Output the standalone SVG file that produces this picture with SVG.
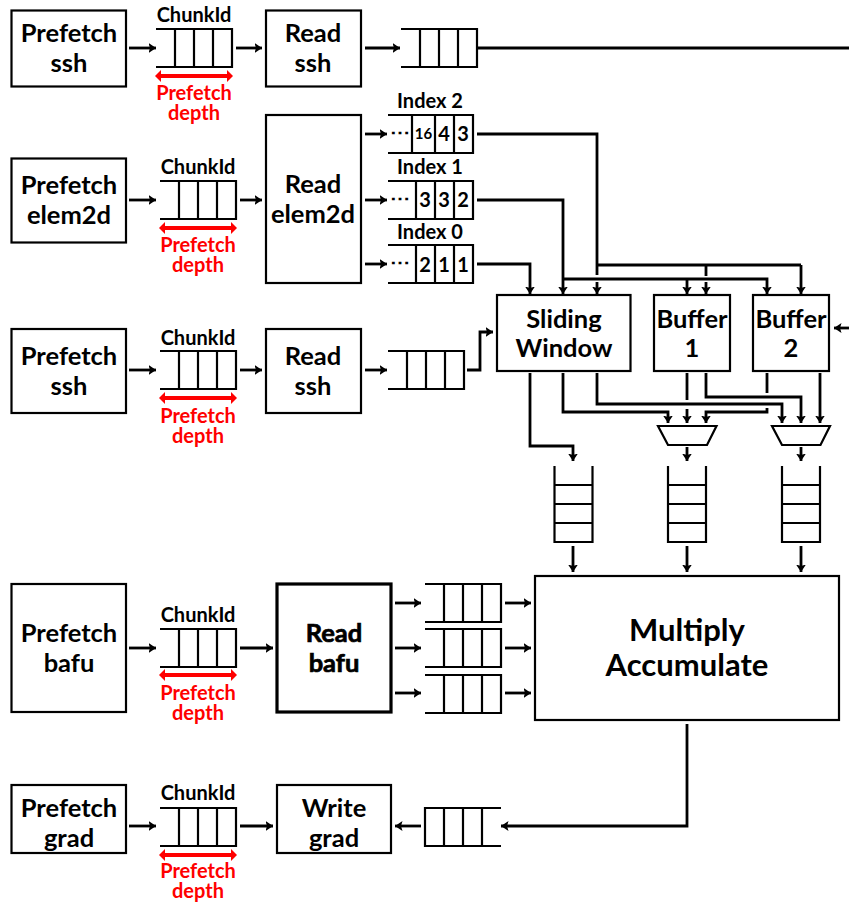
<svg xmlns="http://www.w3.org/2000/svg" xmlns:xlink="http://www.w3.org/1999/xlink" width="849" height="902" viewBox="0 0 849 902">
<style>
text{font-family:"Lato","Open Sans","Liberation Sans",sans-serif;font-weight:700;text-anchor:middle;fill:#000}
.b{fill:#fff;stroke:#000;stroke-width:2.2}
.t{font-size:25.500px}
.s{font-size:20px}
.r{font-size:20px;fill:#f00}
.n{font-size:20px}
.q{fill:none;stroke:#000;stroke-width:2.2}
.c{fill:none;stroke:#000;stroke-width:2.8;marker-end:url(#a)}
.l{fill:none;stroke:#000;stroke-width:2.8}
.d{stroke:#f00;stroke-width:4;fill:none;marker-start:url(#rs);marker-end:url(#re)}
.x{stroke:#000;stroke-width:.7}
</style>
<defs>
<marker id="a" markerUnits="userSpaceOnUse" markerWidth="10" markerHeight="12" refX="7.500" refY="6" orient="auto"><path d="M0 1 L7.500 6 L0 11 L1.500 6Z" fill="#000"/></marker>
<marker id="re" markerUnits="userSpaceOnUse" markerWidth="10" markerHeight="14" refX="4" refY="7" orient="auto"><path d="M0 1 L6 7 L0 13Z" fill="#f00"/></marker>
<marker id="rs" markerUnits="userSpaceOnUse" markerWidth="10" markerHeight="14" refX="2" refY="7" orient="auto"><path d="M6 1 L0 7 L6 13Z" fill="#f00"/></marker>
<path id="qh" class="q" d="M0 0H76V38H0M19 0V38M38 0V38M57 0V38"/>
<path id="qv" class="q" d="M0 0V76H38V0M0 19H38M0 38H38M0 57H38"/>
</defs>

<g id="connectors">
<path class="c" d="M129 48H156"/><path class="c" d="M236 48H262"/><path class="c" d="M365 48H400"/><path class="l" d="M477 48H849"/>
<path class="c" d="M129 200H156"/><path class="c" d="M240 200H262"/>
<path class="c" d="M365 134H387"/><path class="c" d="M365 200H387"/><path class="c" d="M365 264H387"/>
<path class="c" d="M129 370H156"/><path class="c" d="M240 370H262"/><path class="c" d="M365 370H387"/>
<path class="c" d="M467 370H480V332H493"/>
<path class="l" d="M477 134H597V275"/>
<path class="c" d="M597 282V294"/>
<path class="c" d="M477 200H563V294"/>
<path class="c" d="M477 264H530V294"/>
<path class="c" d="M563 279H767V294"/>
<path class="c" d="M687 279V294"/>
<path class="l" d="M597 265H801"/><path class="c" d="M801 265V294"/>
<path class="l" d="M706 265V276"/><path class="c" d="M706 282V294"/>
<path class="c" d="M849 328H834"/>
<path class="c" d="M530 373V446H573V461"/>
<path class="c" d="M563 373V412H668V423"/>
<path class="c" d="M597 373V404H782V423"/>
<path class="l" d="M687 373V400"/><path class="c" d="M687 409V423"/>
<path class="c" d="M706 373V397H801V423"/>
<path class="l" d="M767 373V393"/>
<path class="c" d="M767 408V412H706V423"/>
<path class="c" d="M820 373V423"/>
<path class="c" d="M687 447V461"/><path class="c" d="M801 447V461"/>
<path class="c" d="M573 546V572"/><path class="c" d="M687 546V572"/><path class="c" d="M801 546V572"/>
<path class="c" d="M129 648H156"/><path class="c" d="M240 648H273" style="stroke-width:3.200"/>
<path class="c" d="M395 603H421"/><path class="c" d="M395 648H421"/><path class="c" d="M395 693H421"/>
<path class="c" d="M505 603H531"/><path class="c" d="M505 648H531"/><path class="c" d="M505 693H531"/>
<path class="c" d="M129 826H156"/><path class="c" d="M240 826H273"/>
<path class="c" d="M421 826H395"/>
<path class="c" d="M687 724V826H501"/>
</g>

<g id="prefetch-ssh-1"><rect class="b" x="11.5" y="10.5" width="114.500" height="76"/><text class="t" x="69" y="42">Prefetch</text><text class="t" x="69" y="72">ssh</text></g>
<g id="queue-chunk-1"><text class="s" x="194" y="22">ChunkId</text><use href="#qh" x="156" y="29"/><path class="d" d="M157 76H231"/><text class="r" x="194" y="100">Prefetch<tspan x="194" dy="20">depth</tspan></text></g>
<g id="read-ssh-1"><rect class="b" x="266" y="10.500" width="95" height="76"/><text class="t" x="313" y="42">Read</text><text class="t" x="313" y="72">ssh</text></g>
<g id="queue-ssh-1"><use href="#qh" x="401" y="29"/></g>

<g id="prefetch-elem2d"><rect class="b" x="11.5" y="158.500" width="114.500" height="84"/><text class="t" x="69" y="194">Prefetch</text><text class="t" x="69" y="224">elem2d</text></g>
<g id="queue-chunk-2"><text class="s" x="198" y="174">ChunkId</text><use href="#qh" x="160" y="181"/><path class="d" d="M161 228H235"/><text class="r" x="198" y="252">Prefetch<tspan x="198" dy="20">depth</tspan></text></g>
<g id="read-elem2d"><rect class="b" x="266" y="115" width="95" height="168"/><text class="t" x="313" y="193">Read</text><text class="t" x="313" y="223">elem2d</text></g>

<g id="index-2"><text class="s" x="430" y="108">Index 2</text><path class="q" d="M388 115H473V153H388M412 115V153M435 115V153M454 115V153"/><text class="n" x="400" y="139">⋯</text><text x="423.500" y="139" style="font-size:15px">16</text><text class="n" x="444" y="141">4</text><text class="n" x="463" y="141">3</text></g>
<g id="index-1"><text class="s" x="430" y="174">Index 1</text><path class="q" d="M388 181H473V219H388M416 181V219M435 181V219M454 181V219"/><text class="n" x="400" y="205">⋯</text><text class="n" x="425" y="207">3</text><text class="n" x="444" y="207">3</text><text class="n" x="463" y="207">2</text></g>
<g id="index-0"><text class="s" x="430" y="239">Index 0</text><path class="q" d="M388 245H473V283H388M416 245V283M435 245V283M454 245V283"/><text class="n" x="400" y="269">⋯</text><text class="n" x="425" y="272">2</text><text class="n" x="444" y="272">1</text><text class="n" x="463" y="272">1</text></g>

<g id="prefetch-ssh-2"><rect class="b" x="11.5" y="329" width="114.500" height="84"/><text class="t" x="69" y="365">Prefetch</text><text class="t" x="69" y="395">ssh</text></g>
<g id="queue-chunk-3"><text class="s" x="198" y="345">ChunkId</text><use href="#qh" x="160" y="351"/><path class="d" d="M161 398H235"/><text class="r" x="198" y="423">Prefetch<tspan x="198" dy="20">depth</tspan></text></g>
<g id="read-ssh-2"><rect class="b" x="266" y="329" width="95" height="84"/><text class="t" x="313" y="365">Read</text><text class="t" x="313" y="395">ssh</text></g>
<g id="queue-ssh-2"><use href="#qh" x="388" y="351"/></g>

<g id="sliding-window"><rect class="b" x="497" y="295" width="133.500" height="76"/><text class="t" x="564" y="328">Sliding</text><text class="t" x="564" y="357">Window</text></g>
<g id="buffer-1"><rect class="b" x="654" y="295" width="76" height="76"/><text class="t" x="692" y="328">Buffer</text><text class="t" x="692" y="357">1</text></g>
<g id="buffer-2"><rect class="b" x="753" y="295" width="76" height="76"/><text class="t" x="791" y="328">Buffer</text><text class="t" x="791" y="357">2</text></g>

<g id="mux-1"><path class="b" d="M658 426H716.500L707 445H668Z"/></g>
<g id="mux-2"><path class="b" d="M772 426H830L820.500 445H782Z"/></g>
<g id="queue-v-1"><use href="#qv" x="554.500" y="466"/></g>
<g id="queue-v-2"><use href="#qv" x="668" y="466"/></g>
<g id="queue-v-3"><use href="#qv" x="782" y="466"/></g>

<g id="multiply-accumulate"><rect class="b" x="535" y="576" width="304" height="144"/><text x="687" y="641" style="font-size:31px">Multiply</text><text x="687" y="676" style="font-size:31px">Accumulate</text></g>

<g id="prefetch-bafu"><rect class="b" x="11.5" y="584" width="114.500" height="128"/><text class="t" x="69" y="642">Prefetch</text><text class="t" x="69" y="672">bafu</text></g>
<g id="queue-chunk-4"><text class="s" x="198" y="622">ChunkId</text><use href="#qh" x="160" y="629"/><path class="d" d="M161 675H235"/><text class="r" x="198" y="700">Prefetch<tspan x="198" dy="20">depth</tspan></text></g>
<g id="read-bafu"><rect class="b" x="277" y="584" width="114" height="128" style="stroke-width:3.200"/><text class="t x" x="334" y="642">Read</text><text class="t x" x="334" y="672">bafu</text></g>
<g id="queue-bafu-1"><use href="#qh" x="425" y="584"/></g>
<g id="queue-bafu-2"><use href="#qh" x="425" y="629" style="stroke-width:3"/></g>
<g id="queue-bafu-3"><use href="#qh" x="425" y="675"/></g>

<g id="prefetch-grad"><rect class="b" x="11.5" y="785" width="114.500" height="68"/><text class="t" x="69" y="817">Prefetch</text><text class="t" x="69" y="847">grad</text></g>
<g id="queue-chunk-5"><text class="s" x="198" y="800">ChunkId</text><use href="#qh" x="160" y="808"/><path class="d" d="M161 855H235"/><text class="r" x="198" y="878">Prefetch<tspan x="198" dy="20">depth</tspan></text></g>
<g id="write-grad"><rect class="b" x="277" y="785" width="114" height="68"/><text class="t" x="334" y="817">Write</text><text class="t" x="334" y="847">grad</text></g>
<g id="queue-grad"><path class="q" d="M501 808H425V846H501M444 808V846M463 808V846M482 808V846"/></g>
</svg>
